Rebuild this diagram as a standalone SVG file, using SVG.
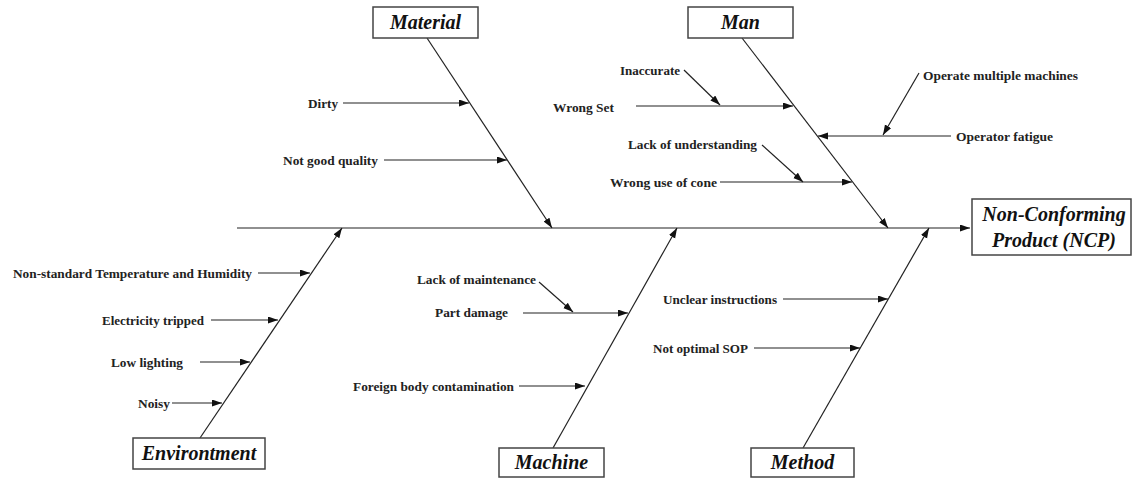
<svg xmlns="http://www.w3.org/2000/svg" width="1133" height="478" viewBox="0 0 1133 478">
<style>
.ln{stroke:#222;stroke-width:1.2;fill:none;marker-end:url(#ah)}
.box{fill:#fff;stroke:#444;stroke-width:1.5}
.lbl{font-family:"Liberation Serif",serif;font-weight:bold;font-style:italic;font-size:20px;fill:#111;text-anchor:middle}
.t{font-family:"Liberation Serif",serif;font-weight:bold;font-size:13.5px;fill:#222}
</style>
<defs>
<marker id="ah" markerUnits="userSpaceOnUse" markerWidth="11" markerHeight="8" refX="10" refY="3.5" orient="auto">
<path d="M0,0 L10,3.5 L0,7 z" fill="#111"/>
</marker>
</defs>
<rect width="1133" height="478" fill="#fff"/>
<g id="connectors">
<line class="ln" x1="237" y1="228" x2="970" y2="228"/>
<line class="ln" x1="427" y1="38" x2="552" y2="228"/>
<line class="ln" x1="742" y1="38" x2="888" y2="228"/>
<line class="ln" x1="200" y1="438" x2="342" y2="228"/>
<line class="ln" x1="553" y1="448" x2="677" y2="228"/>
<line class="ln" x1="803" y1="448" x2="929" y2="228"/>
<line class="ln" x1="343" y1="103" x2="469" y2="103"/>
<line class="ln" x1="384" y1="160" x2="507" y2="160"/>
<line class="ln" x1="684" y1="70" x2="720" y2="105"/>
<line class="ln" x1="636" y1="106" x2="793" y2="106"/>
<line class="ln" x1="919" y1="73" x2="883" y2="135"/>
<line class="ln" x1="951" y1="136" x2="818" y2="136"/>
<line class="ln" x1="762" y1="145" x2="803" y2="182"/>
<line class="ln" x1="720" y1="182" x2="852" y2="182"/>
<line class="ln" x1="258" y1="273" x2="310" y2="273"/>
<line class="ln" x1="211" y1="320" x2="278" y2="320"/>
<line class="ln" x1="200" y1="362" x2="250" y2="362"/>
<line class="ln" x1="172" y1="403" x2="222" y2="403"/>
<line class="ln" x1="539" y1="282" x2="573" y2="312"/>
<line class="ln" x1="523" y1="313" x2="628" y2="313"/>
<line class="ln" x1="519" y1="386" x2="585" y2="386"/>
<line class="ln" x1="783" y1="299" x2="888" y2="299"/>
<line class="ln" x1="754" y1="348" x2="860" y2="348"/>
</g>
<g id="cause-texts">
<text class="t" x="308" y="107.5" textLength="30" lengthAdjust="spacingAndGlyphs">Dirty</text>
<text class="t" x="283" y="164.5" textLength="95" lengthAdjust="spacingAndGlyphs">Not good quality</text>
<text class="t" x="620" y="74.5" textLength="60" lengthAdjust="spacingAndGlyphs">Inaccurate</text>
<text class="t" x="553" y="111.5" textLength="61" lengthAdjust="spacingAndGlyphs">Wrong Set</text>
<text class="t" x="628" y="148.5" textLength="129" lengthAdjust="spacingAndGlyphs">Lack of understanding</text>
<text class="t" x="610" y="186.5" textLength="107" lengthAdjust="spacingAndGlyphs">Wrong use of cone</text>
<text class="t" x="923" y="79.5" textLength="155" lengthAdjust="spacingAndGlyphs">Operate multiple machines</text>
<text class="t" x="956" y="140.5" textLength="97" lengthAdjust="spacingAndGlyphs">Operator fatigue</text>
<text class="t" x="13" y="277.5" textLength="239" lengthAdjust="spacingAndGlyphs">Non-standard Temperature and Humidity</text>
<text class="t" x="102" y="324.5" textLength="102" lengthAdjust="spacingAndGlyphs">Electricity tripped</text>
<text class="t" x="111" y="366.5" textLength="72" lengthAdjust="spacingAndGlyphs">Low lighting</text>
<text class="t" x="138" y="407.5" textLength="32" lengthAdjust="spacingAndGlyphs">Noisy</text>
<text class="t" x="417" y="283.5" textLength="119" lengthAdjust="spacingAndGlyphs">Lack of maintenance</text>
<text class="t" x="435" y="316.5" textLength="73" lengthAdjust="spacingAndGlyphs">Part damage</text>
<text class="t" x="353" y="390.5" textLength="161" lengthAdjust="spacingAndGlyphs">Foreign body contamination</text>
<text class="t" x="663" y="303.5" textLength="114" lengthAdjust="spacingAndGlyphs">Unclear instructions</text>
<text class="t" x="653" y="352.5" textLength="95" lengthAdjust="spacingAndGlyphs">Not optimal SOP</text>
</g>
<g id="material"><rect class="box" x="373" y="7" width="105" height="31"/><text class="lbl" x="425.5" y="29">Material</text></g>
<g id="man"><rect class="box" x="688" y="7" width="105" height="31"/><text class="lbl" x="740.5" y="29">Man</text></g>
<g id="environment"><rect class="box" x="133" y="438" width="132" height="31"/><text class="lbl" x="199" y="460">Environtment</text></g>
<g id="machine"><rect class="box" x="499" y="448" width="105" height="29"/><text class="lbl" x="551.5" y="469">Machine</text></g>
<g id="method"><rect class="box" x="751" y="448" width="103" height="29"/><text class="lbl" x="802.5" y="469">Method</text></g>
<g id="ncp"><rect class="box" x="972" y="199" width="159" height="56"/><text class="lbl" x="1054" y="221">Non-Conforming</text><text class="lbl" x="1054" y="247">Product (NCP)</text></g>
</svg>
